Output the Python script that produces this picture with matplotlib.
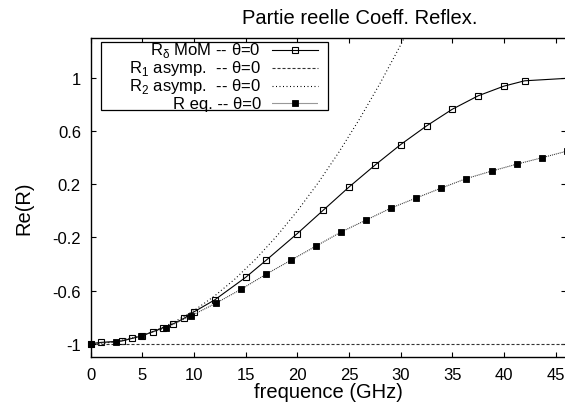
import matplotlib

matplotlib.use("Agg")
import matplotlib.pyplot as plt
from matplotlib.lines import Line2D
from matplotlib.patches import Rectangle

plt.rcParams["font.family"] = ["Liberation Sans", "DejaVu Sans"]
plt.rcParams["mathtext.fontset"] = "custom"
plt.rcParams["mathtext.rm"] = "Liberation Sans"
plt.rcParams["lines.scale_dashes"] = False

W, H = 565, 414  # canvas size in pixels (dpi 100)

# Real part of the reflection coefficient, normal incidence (theta = 0)
mom_freq = [0, 1, 3, 4, 5, 6, 7, 8, 9, 10, 12, 15, 17, 20, 22.5, 25, 27.5,
            30, 32.5, 35, 37.5, 40, 42, 47.5]
mom_re = [-1.0, -0.99, -0.98, -0.96, -0.94, -0.91, -0.88, -0.85, -0.81, -0.76,
          -0.67, -0.50, -0.37, -0.17, 0.005, 0.18, 0.344, 0.50, 0.64, 0.766,
          0.867, 0.94, 0.98, 1.005]

asym1_freq = [0, 46]
asym1_re = [-1.0, -1.0]

asym2_freq = [0, 2, 4, 6, 8, 10, 12, 14, 16, 18, 20, 22, 24, 26, 28, 30, 32]
asym2_re = [-1.0, -0.99, -0.96, -0.91, -0.84, -0.75, -0.64, -0.51, -0.36,
            -0.19, 0.0, 0.21, 0.44, 0.69, 0.96, 1.25, 1.56]

eq_freq = [0, 2.42, 4.85, 7.27, 9.7, 12.12, 14.55, 16.97, 19.4, 21.82, 24.25,
           26.67, 29.1, 31.52, 33.95, 36.37, 38.8, 41.22, 43.65, 46.07]
eq_re = [-1.0, -0.985, -0.94, -0.88, -0.79, -0.695, -0.59, -0.477, -0.37,
         -0.264, -0.158, -0.068, 0.023, 0.098, 0.173, 0.244, 0.30, 0.352,
         0.40, 0.45]

x_ticks = [0, 5, 10, 15, 20, 25, 30, 35, 40, 45]
y_ticks = [-1, -0.6, -0.2, 0.2, 0.6, 1]
y_tick_labels = ["-1", "-0.6", "-0.2", "0.2", "0.6", "1"]

labels = [
    r"R$_\mathregular{δ}$ MoM -- θ=0",
    r"R$_\mathregular{1}$ asymp.  -- θ=0",
    r"R$_\mathregular{2}$ asymp.  -- θ=0",
    "R eq. -- θ=0",
]

styles = [
    dict(color="black", lw=0.8, ls="-", marker="s", ms=4.8, mfc="none",
         mec="black", mew=0.8),
    dict(color="#333333", lw=0.8, ls=(0, (2.2, 1.4))),
    dict(color="black", lw=0.8, ls=(0, (0.72, 1.8))),
    dict(color="#333333", lw=0.8, ls=(0, (0.72, 0.72)), marker="s", ms=4.3,
         mfc="black", mec="black", mew=0.6),
]


def px(x, y):
    """Pixel position (from top-left) to figure fraction."""
    return x / W, 1 - y / H


fig = plt.figure(figsize=(W / 100, H / 100), dpi=100)
left, top, right, bottom = 90.7, 39.3, 566.0, 358.0
ax = fig.add_axes([left / W, 1 - bottom / H, (right - left) / W, (bottom - top) / H])

series = [(mom_freq, mom_re), (asym1_freq, asym1_re),
          (asym2_freq, asym2_re), (eq_freq, eq_re)]
for (fx, fy), style in zip(series, styles):
    ax.plot(fx, fy, clip_on=(style.get("marker") is None), **style)

ax.set_xlim(0, 46)
ax.set_ylim(-1.1, 1.3)
ax.set_xticks(x_ticks)
ax.set_yticks(y_ticks)
ax.set_yticklabels(y_tick_labels)
ax.tick_params(direction="in", length=3.6, width=0.8, labelsize=12,
               top=True, right=True, pad=7)
for spine in ax.spines.values():
    spine.set_linewidth(1.0)

ax.set_xlabel("frequence (GHz)", fontsize=14.5)
ax.xaxis.set_label_coords(0.5, -0.078)
ax.set_ylabel("Re(R)", fontsize=14.5)
ax.yaxis.set_label_coords(-0.14, 0.47)
ax.yaxis.label.set_va("center")

fig.text(*px(360, 24), "Partie reelle Coeff. Reflex.", fontsize=14.5,
         ha="center", va="baseline")

# key box, text right-aligned with line samples to its right
fig.add_artist(Rectangle(px(101, 111), 227 / W, 68 / H, transform=fig.transFigure,
                         fill=True, facecolor="white", edgecolor="black",
                         lw=0.9, zorder=5))
baselines = [55.5, 73.3, 91.0, 108.7]
for label, style, base in zip(labels, styles, baselines):
    fig.text(*px(261, base), label, fontsize=12, ha="right", va="baseline",
             zorder=6)
    yl = base - 4.5
    line_style = {k: v for k, v in style.items()
                  if k not in ("marker", "ms", "mfc", "mec", "mew")}
    x0, y0 = px(272, yl)
    x1, _ = px(318, yl)
    fig.add_artist(Line2D([x0, x1], [y0, y0], transform=fig.transFigure,
                          zorder=6, **line_style))
    if "marker" in style:
        xm, _ = px(295, yl)
        fig.add_artist(Line2D([xm], [y0], transform=fig.transFigure, ls="none",
                              marker=style["marker"], ms=style["ms"],
                              mfc=style["mfc"], mec=style["mec"],
                              mew=style["mew"], zorder=7))

fig.savefig("out.png", dpi=100)
